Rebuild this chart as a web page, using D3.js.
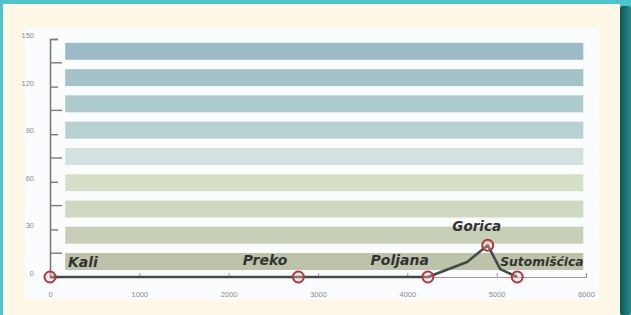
<!DOCTYPE html>
<html>
<head>
<meta charset="utf-8">
<script src="https://cdn.jsdelivr.net/npm/d3@7"></script>
<style>
  html, body { margin: 0; padding: 0; background: #4ec4cc; }
  svg { display: block; }
</style>
</head>
<body>
<script>
// stops along the route (distance in m, elevation in m)
const stopNames = ["Kali", "Preko", "Poljana", "Gorica", "Sutomišćica"];
const stopDist = [0, 2780, 4230, 4900, 5230];
const stopElev = [0, 0, 0, 20, 0];

// elevation profile
const profDist = [0, 2780, 4230, 4670, 4900, 5040, 5230];
const profElev = [0, 0, 0, 9.5, 20, 5, 0];

// elevation bands (bottom to top)
const bandLow = [4.4, 21.0, 37.5, 54.1, 70.6, 87.2, 103.8, 120.3, 136.9];
const bandHigh = [15.1, 31.7, 48.2, 64.8, 81.3, 97.9, 114.5, 131.0, 147.6];
const bandColors = ["#bcc3a8", "#c7d0b6", "#cfd8c0", "#d6dfc8", "#d3e2df",
                    "#b8d1d2", "#adcacc", "#a4c3c8", "#9dbbc6"];

const xTicks = [0, 1000, 2000, 3000, 4000, 5000, 6000];
const yTicks = [0, 30, 60, 90, 120, 150];
const yMinor = [15, 45, 75, 105, 135];

const W = 631, H = 315;

const svg = d3.select("body").append("svg")
    .attr("width", W).attr("height", H);

const defs = svg.append("defs");
const grad = defs.append("linearGradient").attr("id", "shadow");
grad.append("stop").attr("offset", "0%").attr("stop-color", "#0a5755");
grad.append("stop").attr("offset", "100%").attr("stop-color", "#2a8a8b");

// frame
svg.append("rect").attr("width", W).attr("height", H).attr("fill", "#4ec4cc");
svg.append("rect").attr("x", 620).attr("y", 6).attr("width", 11).attr("height", H - 6)
    .attr("rx", 3).attr("fill", "url(#shadow)");
svg.append("rect").attr("x", 3).attr("y", 4).attr("width", 617).attr("height", H - 4)
    .attr("fill", "#fff8e6");
svg.append("rect").attr("x", 25).attr("y", 28).attr("width", 574).attr("height", 272)
    .attr("fill", "#fbfcfd");

const x = d3.scaleLinear().domain([0, 6000]).range([50, 586]);
const y = d3.scaleLinear().domain([0, 150]).range([277, 39]);

// bands
svg.append("g").selectAll("rect")
    .data(bandLow)
    .join("rect")
    .attr("x", x(170))
    .attr("width", x(5970) - x(170))
    .attr("y", (d, i) => y(bandHigh[i]))
    .attr("height", (d, i) => y(bandLow[i]) - y(bandHigh[i]))
    .attr("fill", (d, i) => bandColors[i]);

// y axis
const yAxis = svg.append("g")
    .attr("transform", `translate(${x(0)},0)`)
    .call(d3.axisLeft(y).tickValues(yTicks).tickSize(-8).tickPadding(16));
yAxis.select(".domain").attr("stroke", "#7a7a7a").attr("stroke-width", 1.6);
yAxis.selectAll(".tick line").attr("stroke", "#7a7a7a").attr("stroke-width", 1.4);
yAxis.selectAll(".tick text")
    .attr("fill", "#8c8c8c").attr("font-size", 7.5)
    .attr("font-family", "Liberation Sans, Arial, sans-serif")
    .attr("dy", "-0.2em");

svg.append("g").selectAll("line")
    .data(yMinor)
    .join("line")
    .attr("x1", x(0)).attr("x2", x(0) + 12)
    .attr("y1", d => y(d)).attr("y2", d => y(d))
    .attr("stroke", "#7a7a7a").attr("stroke-width", 1.4);

// x axis
const xAxis = svg.append("g")
    .attr("transform", `translate(0,${y(0)})`)
    .call(d3.axisBottom(x).tickValues(xTicks).tickFormat(d3.format("d"))
        .tickSize(-4).tickPadding(15));
xAxis.select(".domain").attr("stroke", "#9a9a9a").attr("stroke-width", 1.2);
xAxis.selectAll(".tick line").attr("stroke", "#9a9a9a");
xAxis.selectAll(".tick text")
    .attr("fill", "#8c8c8c").attr("font-size", 7.5)
    .attr("font-family", "Liberation Sans, Arial, sans-serif");

// profile
const line = d3.line()
    .x((d, i) => x(profDist[i]))
    .y((d, i) => y(profElev[i]));
svg.append("path")
    .datum(profDist)
    .attr("d", line)
    .attr("fill", "none")
    .attr("stroke", "#404c48")
    .attr("stroke-width", 2.6)
    .attr("stroke-linejoin", "round");

// stop markers
svg.append("g").selectAll("circle")
    .data(stopDist)
    .join("circle")
    .attr("cx", d => x(d))
    .attr("cy", (d, i) => y(stopElev[i]))
    .attr("r", 5.5)
    .attr("fill", "rgba(240,200,200,0.35)")
    .attr("stroke", "#b4363a")
    .attr("stroke-width", 2);

// stop labels
const labelDx = [18, -11, 1, -11, -17];
const labelDy = [-10, -12, -12, -14, -11];
const labelAnchor = ["start", "end", "end", "middle", "start"];
const labelSize = [14, 14, 14, 13.5, 12.3];
svg.append("g").selectAll("text")
    .data(stopNames)
    .join("text")
    .attr("x", (d, i) => x(stopDist[i]) + labelDx[i])
    .attr("y", (d, i) => y(stopElev[i]) + labelDy[i])
    .attr("text-anchor", (d, i) => labelAnchor[i])
    .attr("font-family", "DejaVu Sans, sans-serif")
    .attr("font-weight", "bold")
    .attr("font-style", "italic")
    .attr("font-size", (d, i) => labelSize[i])
    .attr("fill", "#333")
    .text(d => d);
</script>
</body>
</html>
